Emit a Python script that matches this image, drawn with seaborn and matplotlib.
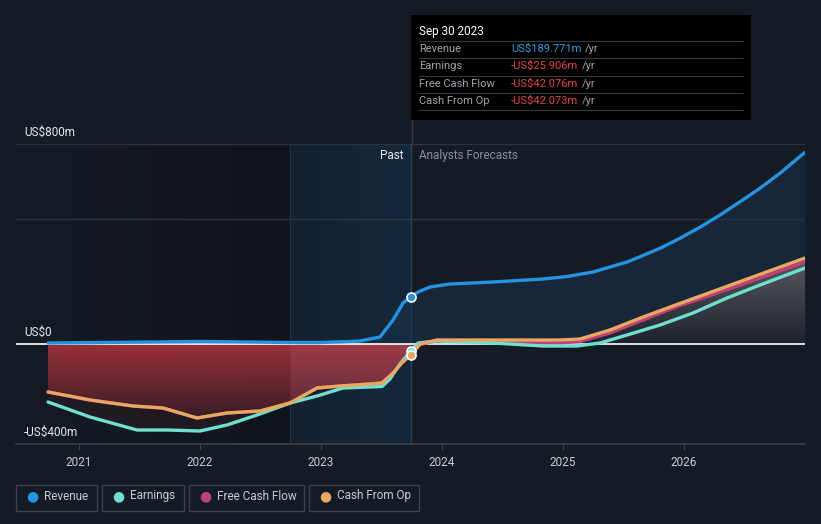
import numpy as np
import pandas as pd
import matplotlib
matplotlib.use("Agg")
import matplotlib.pyplot as plt
from matplotlib.patches import Rectangle
from matplotlib.colors import LinearSegmentedColormap
import seaborn as sns

# ---------------- data (US$ m, decimal years) ----------------
rev_x = [2020.744, 2021.174, 2021.587, 2022.000, 2022.413, 2022.744, 2022.992, 2023.240, 2023.322,
         2023.488, 2023.595, 2023.678, 2023.744, 2023.802, 2023.901, 2024.066, 2024.421, 2024.835,
         2025.033, 2025.248, 2025.529, 2025.636, 2025.802, 2025.967, 2026.132, 2026.298, 2026.463,
         2026.628, 2026.793, 2027.000]
rev_y = [4, 6, 8, 10, 8, 6, 6, 10, 12, 28, 96, 164, 190, 208, 228, 240, 248, 260,
         270, 288, 328, 349, 383, 423, 467, 516, 569, 623, 683, 767]

earn_x = [2020.744, 2021.091, 2021.479, 2021.727, 2022.000, 2022.223, 2022.471, 2022.744, 2022.967,
          2023.182, 2023.405, 2023.504, 2023.570, 2023.653, 2023.744, 2023.802, 2023.959, 2024.421,
          2024.835, 2025.116, 2025.306, 2025.529, 2025.802, 2026.074, 2026.355, 2026.628, 2027.000]
earn_y = [-232, -292, -344, -344, -348, -324, -284, -236, -208, -176, -172, -170, -140, -80, -26,
          4, 12, 4, -8, -8, 4, 36, 76, 124, 184, 236, 304]

cfo_x = [2020.744, 2021.091, 2021.446, 2021.694, 2021.835, 2021.975, 2022.223, 2022.496, 2022.744,
         2022.967, 2023.157, 2023.405, 2023.504, 2023.587, 2023.669, 2023.744, 2023.818, 2023.959,
         2024.479, 2024.975, 2025.140, 2025.388, 2025.661, 2025.942, 2026.215, 2026.488, 2027.000]
cfo_y = [-192, -224, -248, -256, -276, -296, -276, -268, -236, -176, -168, -160, -156, -120, -75,
         -42, 0, 16, 16, 16, 20, 56, 108, 158, 206, 254, 344]
fcf_y = [-192, -224, -248, -256, -276, -296, -276, -268, -236, -176, -168, -160, -156, -120, -75,
         -42, -2, 14, 8, 4, 10, 44, 96, 150, 194, 240, 328]

series_names = ["Revenue", "Earnings", "Free Cash Flow", "Cash From Op"]
colors = {"Revenue": "#2394df", "Earnings": "#6ee0d0", "Free Cash Flow": "#c0407a", "Cash From Op": "#e8a860"}
year_ticks = [2021, 2022, 2023, 2024, 2025, 2026]
y_labels = {800: "US$800m", 0: "US$0", -400: "-US$400m"}
tip_date = "Sep 30 2023"
tip_rows = [("Revenue", "US$189.771m"), ("Earnings", "-US$25.906m"),
            ("Free Cash Flow", "-US$42.076m"), ("Cash From Op", "-US$42.073m")]
past_x = 2023.744
hl_start = 2022.744

df = pd.concat([
    pd.DataFrame({"x": rev_x, "y": rev_y, "s": "Revenue"}),
    pd.DataFrame({"x": earn_x, "y": earn_y, "s": "Earnings"}),
    pd.DataFrame({"x": cfo_x, "y": fcf_y, "s": "Free Cash Flow"}),
    pd.DataFrame({"x": cfo_x, "y": cfo_y, "s": "Cash From Op"}),
])

sns.set_style("dark")
plt.rcParams["font.family"] = ["Roboto", "DejaVu Sans"]

# ---------------- figure ----------------
W, H = 821, 524
BG = "#151b25"
fig = plt.figure(figsize=(W / 100, H / 100), dpi=100, facecolor=BG)
L, R, T, B = 16, 805, 144, 444
ax = fig.add_axes([L / W, 1 - B / H, (R - L) / W, (B - T) / H])
ax.set_facecolor(BG)
XMIN, XMAX = 2020.479, 2027.0
ax.set_xlim(XMIN, XMAX)
ax.set_ylim(-400, 800)
ax.grid(False)

# background shading
dark = LinearSegmentedColormap.from_list("d", [BG, "#10141b"])
ax.imshow(np.linspace(0, 1, 100).reshape(1, -1), extent=[XMIN, hl_start, -400, 800],
          aspect="auto", cmap=dark, zorder=0)
hl = LinearSegmentedColormap.from_list("h", ["#132131", "#15283b"])
ax.imshow(np.linspace(0, 1, 100).reshape(1, -1), extent=[hl_start, past_x, -400, 800],
          aspect="auto", cmap=hl, zorder=0)
ax.axvline(hl_start, color="#1f3447", lw=0.8, zorder=1)
ax.axvline(past_x, color="#2a4258", lw=1, zorder=1)
fig.add_artist(plt.Line2D([411.5 / W] * 2, [1 - 120 / H, 1 - 144 / H], color="#2a4258", lw=1,
                          transform=fig.transFigure))

# grid
for gy in (800, 500):
    ax.axhline(gy, color="#2c333e", lw=1, zorder=1)

# fills
rx = np.array(rev_x); ry = np.array(rev_y)
ax.fill_between(rx, 0, ry, color="#1a3552", alpha=0.45, lw=0, zorder=2)

cx = np.array(cfo_x); cy = np.array(cfo_y); fy = np.array(fcf_y)
ex = np.array(earn_x); ey = np.array(earn_y)
past = cx <= past_x + 1e-6
poly = ax.fill_between(cx[past], 0, cy[past], color="none", lw=0, zorder=2)
red = LinearSegmentedColormap.from_list("r", ["#2a1a22", "#a3323a"])
im = ax.imshow(np.linspace(0, 1, 100).reshape(-1, 1), extent=[XMIN, past_x, -350, 0],
               aspect="auto", cmap=red, origin="lower", zorder=2, alpha=0.95)
im.set_clip_path(poly.get_paths()[0], transform=ax.transData)
ax.fill_between(cx[past], 0, cy[past], where=cx[past] >= hl_start - 1e-6,
                color="#c06a8a", alpha=0.18, lw=0, zorder=3)
epast = ex <= past_x + 1e-6
ax.fill_between(ex[epast], np.interp(ex[epast], cx, cy), ey[epast], color="#2a1c24",
                alpha=0.6, lw=0, zorder=2)

fut = cx >= past_x - 1e-6
poly3 = ax.fill_between(cx[fut], 0, np.maximum(cy[fut], 0), color="none", lw=0, zorder=2)
grey = LinearSegmentedColormap.from_list("g", ["#1e232b", "#5a5a60"])
im2 = ax.imshow(np.linspace(0, 1, 100).reshape(-1, 1), extent=[past_x, XMAX, 0, 350],
                aspect="auto", cmap=grey, origin="lower", zorder=2)
im2.set_clip_path(poly3.get_paths()[0], transform=ax.transData)
ax.fill_between(cx[fut], fy[fut], cy[fut], color="#7a3050", alpha=0.5, lw=0, zorder=3)

ax.axhline(0, color="white", lw=1.2, zorder=4)

# lines
sns.lineplot(data=df, x="x", y="y", hue="s", palette=colors,
             hue_order=["Free Cash Flow", "Earnings", "Cash From Op", "Revenue"],
             lw=2.4, legend=False, ax=ax, zorder=5, sort=False)
for ln in ax.get_lines():
    ln.set_solid_joinstyle("round")
    ln.set_solid_capstyle("round")

# markers at the past line
for yv, c in [(190, colors["Revenue"]), (-26, colors["Earnings"]), (-42, colors["Cash From Op"])]:
    ax.scatter([past_x], [yv], s=42, color=c, edgecolor="white", lw=1.2, zorder=7)

# axes styling
for sp in ax.spines.values():
    sp.set_visible(False)
ax.set_xlabel(""); ax.set_ylabel("")
ax.set_yticks([])
ax.set_xticks(year_ticks)
ax.set_xticklabels([str(y) for y in year_ticks], color="#c8ccd2", fontsize=8.5)
ax.tick_params(axis="x", length=4, color="#3a414c", pad=5, bottom=True)
ax.plot([XMIN, XMAX], [-400, -400], color="#3a414c", lw=1.2, clip_on=False, zorder=6)

def px(x, y):
    return x / W, 1 - y / H

for v, lab in y_labels.items():
    yy = {800: 132, 0: 332, -400: 432}[v]
    fig.text(*px(24, yy), lab, color="#e6e8eb", fontsize=8.5, va="center", ha="left")

fig.text(*px(403, 156), "Past", color="#e6e8eb", fontsize=8.5, va="center", ha="right")
fig.text(*px(419, 156), "Analysts Forecasts", color="#8a9099", fontsize=8.5, va="center", ha="left")

# tooltip
fig.add_artist(Rectangle(px(411, 120), 340 / W, 105 / H, transform=fig.transFigure,
                         facecolor="#000000", edgecolor="none", zorder=10))
fig.text(*px(419, 31), tip_date, color="white", fontsize=8.5, va="center", ha="left", zorder=11)
row_y = [49, 66, 84, 101]
fig.canvas.draw()
for i, (lab, val) in enumerate(tip_rows):
    yy = row_y[i]
    fig.add_artist(plt.Line2D([419 / W, 743 / W], [1 - (yy - 8.5) / H] * 2, color="#3a3a3a",
                              lw=0.8, transform=fig.transFigure, zorder=11))
    fig.text(*px(419, yy), lab, color="#a0a4aa", fontsize=8, va="center", ha="left", zorder=11)
    vc = "#2e9be6" if i == 0 else "#e8424a"
    t = fig.text(*px(511, yy), val, color=vc, fontsize=8, va="center", ha="left", zorder=11)
    bb = t.get_window_extent(renderer=fig.canvas.get_renderer())
    fig.text((bb.x1 + 4) / W, 1 - yy / H, "/yr", color="#a0a4aa", fontsize=8, va="center",
             ha="left", zorder=11)
fig.add_artist(plt.Line2D([419 / W, 743 / W], [1 - 110 / H] * 2, color="#3a3a3a",
                          lw=0.8, transform=fig.transFigure, zorder=11))

# legend
boxes = [(16, 97), (102, 184), (189, 304), (309, 419)]
for (x0, x1), name in zip(boxes, series_names):
    fig.add_artist(Rectangle(px(x0, 511), (x1 - x0) / W, 26 / H, transform=fig.transFigure,
                             facecolor="none", edgecolor="#3c434e", lw=1, zorder=10))
    fig.text(*px(x0 + 16, 496), "\u25CF", color=colors[name], fontsize=10, va="center",
             ha="center", family="DejaVu Sans")
    fig.text(*px(x0 + 28, 496), name, color="#c8ccd2", fontsize=8.5, va="center", ha="left")

fig.savefig("out.png", dpi=100, facecolor=BG)
